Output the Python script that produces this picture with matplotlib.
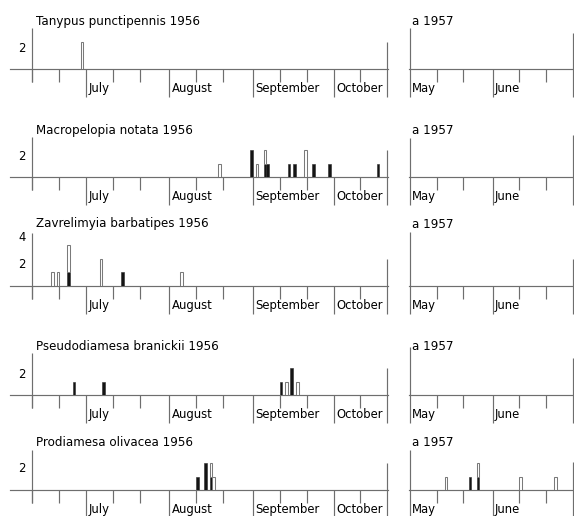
import matplotlib
matplotlib.use('Agg')
import matplotlib.pyplot as plt
import numpy as np

plt.rcParams['font.family'] = ['DejaVu Sans']

# ---------------- data ----------------
species = ["Tanypus punctipennis 1956",
           "Macropelopia notata 1956",
           "Zavrelimyia barbatipes 1956",
           "Pseudodiamesa branickii 1956",
           "Prodiamesa olivacea 1956"]
right_title = "a 1957"

# 1956: day counted from 1 June (= 0)
days_1956 = [[28],
             [79, 91, 93, 96, 97, 105, 107, 111, 114, 120, 138],
             [17, 19, 23, 35, 43, 65],
             [25, 36, 102, 104, 106, 108],
             [71, 74, 76, 77]]
black_1956 = [[0],
              [0, 2, 0, 1, 1, 1, 1, 0, 1, 1, 1],
              [0, 0, 1, 0, 1, 0],
              [1, 1, 1, 0, 2, 0],
              [1, 2, 1, 0]]
open_1956 = [[2],
             [1, 0, 1, 1, 0, 0, 0, 2, 0, 0, 0],
             [1, 1, 2, 2, 0, 1],
             [0, 0, 0, 1, 0, 1],
             [0, 0, 1, 1]]

# 1957: day counted from 1 May (= 0)
days_1957 = [[], [], [], [], [13, 22, 25, 41, 54]]
black_1957 = [[], [], [], [], [0, 1, 1, 0, 0]]
open_1957 = [[], [], [], [], [1, 0, 1, 1, 1]]

ytick_labels = [[2], [2], [2, 4], [2], [2]]

months_1956 = ["July", "August", "September", "October"]
month_start_1956 = [30, 61, 92, 122]
dekads_1956 = [10, 20, 40, 50, 71, 81, 102, 112, 132]
end_1956 = 142
first_1956 = 10

months_1957 = ["May", "June"]
month_start_1957 = [0, 31]
dekads_1957 = [10, 20, 41, 51]
end_1957 = 61
first_1957 = 0

# ---------------- layout (pixels) ----------------
W, H, DPI = 574, 516, 100
PT = 72.0 / DPI
UNIT = 13.5                      # px per individual
baseline_px = [69.3, 177.3, 285.7, 395.3, 490.0]
title_off_px = [48, 46.6, 61.7, 48.6, 47.3]
left_top = [3.05, 3.0, 3.9, 3.1, 3.0]
right_left_top = [3.05, 2.9, 4.0, 3.6, 2.95]
right_end_top = [2.7, 3.1, 2.0, 2.8, 2.1]
left_end_top = 2.0
YMAX = 4.3

LC = '#6e6e6e'
LW = 0.85
FS = 8.4
FS_T = 8.6

fig = plt.figure(figsize=(W / DPI, H / DPI), dpi=DPI)


def make_axes(x0_px, x1_px, base_px, xlim):
    ax = fig.add_axes([x0_px / W, (H - base_px) / H,
                       (x1_px - x0_px) / W, YMAX * UNIT / H])
    ax.set_xlim(*xlim)
    ax.set_ylim(0, YMAX)
    ax.patch.set_alpha(0)
    for s in ('top', 'left', 'right'):
        ax.spines[s].set_visible(False)
    ax.spines['bottom'].set_color(LC)
    ax.spines['bottom'].set_linewidth(LW)
    ax.set_yticks([])
    return ax


def style_ticks(ax, major, minor):
    ax.set_xticks(major)
    ax.set_xticks(minor, minor=True)
    ax.tick_params(axis='x', which='major', length=28 * PT, width=LW,
                   color=LC, labelbottom=False, direction='out')
    ax.tick_params(axis='x', which='minor', length=13 * PT, width=LW,
                   color=LC, labelbottom=False, direction='out')


def draw_bars(ax, d, b, o):
    d = np.asarray(d, float)
    b = np.asarray(b, float)
    o = np.asarray(o, float)
    if len(d) == 0:
        return
    mb = b > 0
    ax.bar(d[mb], b[mb], width=1.0, align='edge', color='#141414',
           edgecolor='#2a2a2a', linewidth=0.4, zorder=3)
    mo = o > 0
    ax.bar(d[mo], o[mo], bottom=b[mo], width=1.0, align='edge',
           facecolor='white', edgecolor='#7a7a7a', linewidth=0.75, zorder=3)


# left: day 10 at 32.3 px, day 142 at 387.3 px
sL = (387.3 - 32.3) / (end_1956 - first_1956)
xl0 = 1.7
xl1 = 142.25
# right: day 0 at 410 px, day 61 at 572.7 px
sR = (572.7 - 410.0) / (end_1957 - first_1957)
xr0 = -0.25
xr1 = 61.5

for i in range(5):
    base = baseline_px[i]
    # ---- 1956 panel
    x0 = 32.3 + (xl0 - first_1956) * sL
    x1 = 32.3 + (xl1 - first_1956) * sL
    ax = make_axes(x0, x1, base, (xl0, xl1))
    style_ticks(ax, month_start_1956 + [end_1956], dekads_1956 + [first_1956])
    ax.plot([first_1956, first_1956], [0, left_top[i]], color=LC, lw=LW,
            clip_on=False, solid_capstyle='butt')
    ax.plot([end_1956, end_1956], [0, left_end_top], color=LC, lw=LW,
            clip_on=False, solid_capstyle='butt')
    draw_bars(ax, days_1956[i], black_1956[i], open_1956[i])
    for name, d in zip(months_1956, month_start_1956):
        ax.annotate(name, xy=(d, 0), xytext=(2.5 * PT, -19.5 * PT),
                    textcoords='offset points', ha='left', va='center',
                    fontsize=FS, annotation_clip=False)
    for v in ytick_labels[i]:
        ax.annotate(str(v), xy=(first_1956, v), xytext=(-6.5 * PT, -6 * PT),
                    textcoords='offset points', ha='right', va='center',
                    fontsize=FS, annotation_clip=False)
    ax.annotate(species[i], xy=(first_1956, 0),
                xytext=(3.5 * PT, title_off_px[i] * PT),
                textcoords='offset points', ha='left', va='center',
                fontsize=FS_T, annotation_clip=False)

    # ---- 1957 panel
    x0 = 410.0 + (xr0 - first_1957) * sR
    x1 = 410.0 + (xr1 - first_1957) * sR
    ax2 = make_axes(x0, x1, base, (xr0, xr1))
    style_ticks(ax2, month_start_1957 + [end_1957], dekads_1957)
    ax2.plot([first_1957, first_1957], [0, right_left_top[i]], color=LC,
             lw=LW, clip_on=False, solid_capstyle='butt')
    ax2.plot([end_1957, end_1957], [0, right_end_top[i]], color=LC, lw=LW,
             clip_on=False, solid_capstyle='butt')
    draw_bars(ax2, days_1957[i], black_1957[i], open_1957[i])
    for name, d in zip(months_1957, month_start_1957):
        ax2.annotate(name, xy=(d, 0), xytext=(2.0 * PT, -19.5 * PT),
                     textcoords='offset points', ha='left', va='center',
                     fontsize=FS, annotation_clip=False)
    ax2.annotate(right_title, xy=(first_1957, 0),
                 xytext=(2.5 * PT, title_off_px[i] * PT),
                 textcoords='offset points', ha='left', va='center',
                 fontsize=FS_T, annotation_clip=False)

fig.savefig('out.png', dpi=DPI)
